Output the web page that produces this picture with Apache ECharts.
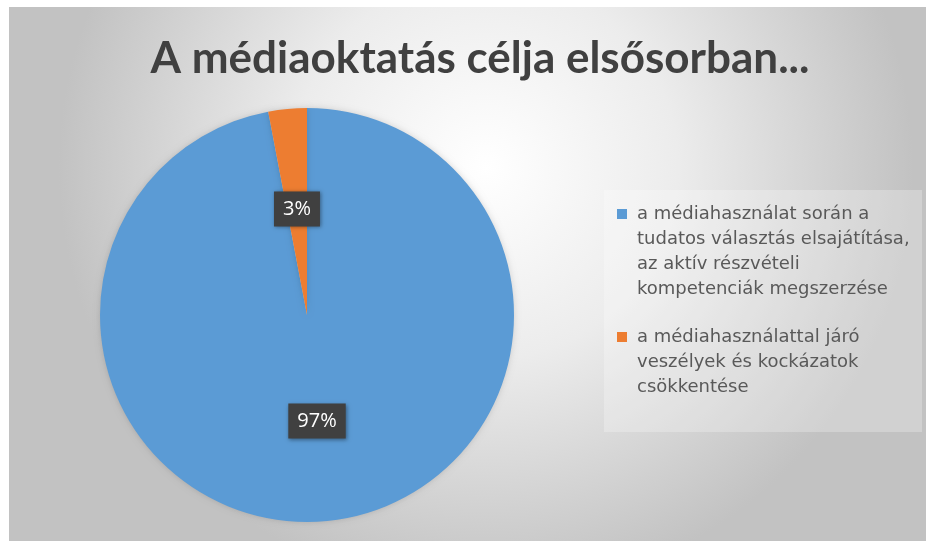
<!DOCTYPE html>
<html>
<head>
<meta charset="utf-8">
<script src="https://cdn.jsdelivr.net/npm/echarts@6/dist/echarts.min.js"></script>
<style>
  html, body { margin: 0; padding: 0; background: #fff; }
  #myChart { width: 926px; height: 541px; }
</style>
</head>
<body>
<div id="myChart"></div>
<script>
// adatok
var titleText = 'A médiaoktatás célja elsősorban...';
var categories = [
    'a médiahasználat során a tudatos választás elsajátítása, az aktív részvételi kompetenciák megszerzése',
    'a médiahasználattal járó veszélyek és kockázatok csökkentése'
];
var legendLines = [
    ['a médiahasználat során a', 'tudatos választás elsajátítása,', 'az aktív részvételi', 'kompetenciák megszerzése'],
    ['a médiahasználattal járó', 'veszélyek és kockázatok', 'csökkentése']
];
var values = [97, 3];
var colors = ['#5b9bd5', '#ed7d31'];

var myChart = echarts.init(document.getElementById('myChart'));

var pieData = [];
for (var i = 0; i < categories.length; i++) {
    pieData.push({ name: categories[i], value: values[i], itemStyle: { color: colors[i] } });
}

var option = {
    backgroundColor: '#ffffff',
    animation: false,
    graphic: [{
        type: 'rect',
        z: -10,
        shape: { x: 9, y: 7, width: 917, height: 534 },
        style: {
            fill: new echarts.graphic.RadialGradient(0.52, 0.3, 0.8, [
                { offset: 0, color: '#ffffff' },
                { offset: 0.45, color: '#ececec' },
                { offset: 1, color: '#c2c2c2' }
            ])
        }
    }, {
        // világosabb doboz a jelmagyarázat mögött
        type: 'rect',
        z: -9,
        shape: { x: 604, y: 190, width: 318, height: 242 },
        style: { fill: 'rgba(255,255,255,0.25)' }
    }],
    title: {
        text: titleText,
        left: 475,
        top: 32,
        textAlign: 'center',
        textStyle: {
            fontFamily: 'Lato',
            fontWeight: 'bold',
            fontSize: 44,
            color: '#404040'
        }
    },
    legend: {
        orient: 'vertical',
        left: 612,
        top: 205,
        padding: 0,
        itemGap: 30,
        itemWidth: 0,
        itemHeight: 0,
        selectedMode: false,
        data: categories,
        formatter: function(name) {
            var idx = categories.indexOf(name);
            var lines = legendLines[idx];
            var out = [];
            for (var k = 0; k < lines.length; k++) {
                if (k === 0) {
                    out.push('{sq' + idx + '|}{gap|}{t|' + lines[k] + '}');
                } else {
                    out.push('{ind|}{t|' + lines[k] + '}');
                }
            }
            return out.join('\n');
        },
        textStyle: {
            rich: {
                sq0: { width: 10, height: 10, backgroundColor: colors[0] },
                sq1: { width: 10, height: 10, backgroundColor: colors[1] },
                gap: { width: 10 },
                ind: { width: 20 },
                t: {
                    fontFamily: 'DejaVu Sans',
                    fontSize: 18,
                    lineHeight: 25,
                    color: '#595959'
                }
            }
        }
    },
    series: [{
        type: 'pie',
        center: [307, 315],
        radius: 207,
        startAngle: 90,
        clockwise: true,
        data: pieData,
        itemStyle: {
            shadowBlur: 6,
            shadowColor: 'rgba(0,0,0,0.15)'
        },
        label: {
            show: true,
            position: 'inside',
            formatter: '{c}%',
            fontFamily: 'Open Sans',
            fontSize: 20,
            color: '#ffffff',
            backgroundColor: '#404040',
            padding: [8, 9, 7, 9],
            shadowBlur: 4,
            shadowColor: 'rgba(0,0,0,0.4)',
            shadowOffsetX: 1,
            shadowOffsetY: 1
        },
        labelLine: { show: false },
        emphasis: { disabled: true }
    }]
};
myChart.setOption(option);
</script>
</body>
</html>
